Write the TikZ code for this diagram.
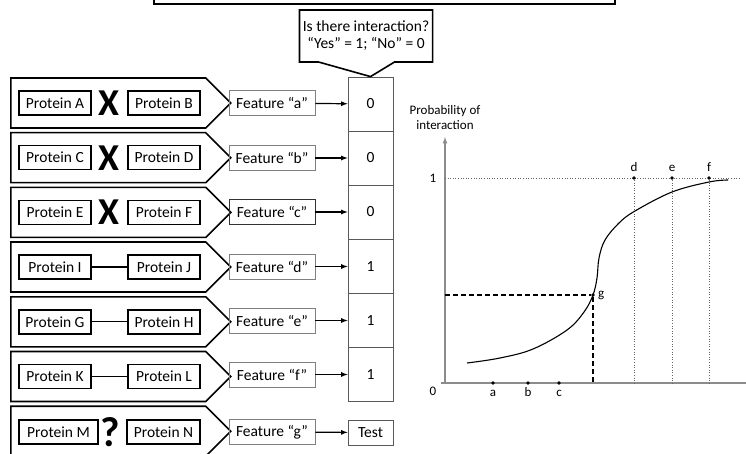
\documentclass[tikz,border=0pt]{standalone}
\usepackage{fontspec}
\setmainfont{Carlito}
\usetikzlibrary{shapes.symbols,shapes.callouts,arrows}

\tikzset{
  pairArrow/.style={shape=signal, signal to=east, signal pointer angle=90, draw=black, line width=1.6pt, minimum width=220pt, minimum height=50pt, inner sep=0pt, anchor=west},
  proteinBox/.style={rectangle, draw=black, line width=1.6pt, minimum width=72pt, minimum height=24pt, inner sep=0pt, font=\fontsize{15.5}{18}\selectfont},
  featureBox/.style={rectangle, draw=black!50, line width=0.8pt, minimum width=86pt, minimum height=25pt, inner sep=0pt, font=\fontsize{15.5}{18}\selectfont},
  valueBox/.style={rectangle, draw=black!65, line width=0.8pt, minimum width=45pt, minimum height=54pt, inner sep=0pt, font=\fontsize{15.5}{18}\selectfont},
  crossMark/.style={inner sep=0pt, font=\fontsize{38}{38}\selectfont\bfseries},
  askMark/.style={inner sep=0pt, font=\fontsize{42}{42}\selectfont\bfseries},
  featArrow/.style={-latex, line width=1.2pt},
  pairLink/.style={line width=1.2pt},
  graphLabel/.style={inner sep=1pt, font=\fontsize{13}{15}\selectfont},
  pointLabel/.style={graphLabel, text height=7pt, text depth=0pt},
  graphDot/.style={circle, fill=black, inner sep=0pt, minimum size=3.6pt},
  guideLine/.style={black!60, line width=0.6pt, dotted},
  axisLine/.style={black!45, line width=1.2pt}
}

\begin{document}
\begin{tikzpicture}[x=1pt,y=-1pt]
\useasboundingbox (0,0) rectangle (746,454);

\node (topBox) [rectangle, draw=black, line width=2.6pt, minimum width=461pt, minimum height=40pt] at (384.5,-16) {};

% value column
\node (value1) [valueBox] at (370.5,104) {0};
\node (value2) [valueBox] at (370.5,158) {0};
\node (value3) [valueBox] at (370.5,212) {0};
\node (value4) [valueBox] at (370.5,266.5) {1};
\node (value5) [valueBox] at (370.5,320.5) {1};
\node (value6) [valueBox] at (370.5,374.5) {1};
\node (valueTest) [valueBox, minimum height=25pt] at (370.5,432.5) {Test};

\node (question) [rectangle callout, draw=black, line width=1.6pt, minimum width=128pt, minimum height=52pt, callout absolute pointer={(value1.north)}, callout pointer width=76pt, align=center, font=\fontsize{15.5}{17}\selectfont] at (366,36) {Is there interaction?\\“Yes” = 1; “No” = 0};

% row A-B
\node (pairAB) [pairArrow] at (10,103) {};
\node (protA) [proteinBox] at (55,103) {Protein A};
\node (protB) [proteinBox] at (164,103) {Protein B};
\node (crossAB) [crossMark] at (108.5,103) {X};
\node (featA) [featureBox] at (272,103) {Feature “a”};
\draw [featArrow] (featA) -- (value1);

% row C-D
\node (pairCD) [pairArrow] at (10,157.7) {};
\node (protC) [proteinBox] at (55,157.7) {Protein C};
\node (protD) [proteinBox] at (164,157.7) {Protein D};
\node (crossCD) [crossMark] at (108.5,157.7) {X};
\node (featB) [featureBox] at (272,158) {Feature “b”};
\draw [featArrow] (featB) -- (value2);

% row E-F
\node (pairEF) [pairArrow] at (10,212.4) {};
\node (protE) [proteinBox] at (55,212.4) {Protein E};
\node (protF) [proteinBox] at (164,212.4) {Protein F};
\node (crossEF) [crossMark] at (108.5,212.4) {X};
\node (featC) [featureBox, draw=black!80] at (272,212) {Feature “c”};
\draw [featArrow] (featC) -- (value3);

% row I-J
\node (pairIJ) [pairArrow] at (10,267) {};
\node (protI) [proteinBox] at (55,267) {Protein I};
\node (protJ) [proteinBox] at (164,267) {Protein J};
\draw [pairLink] (protI) -- (protJ);
\node (featD) [featureBox] at (272,266.5) {Feature “d”};
\draw [featArrow] (featD) -- (value4);

% row G-H
\node (pairGH) [pairArrow] at (10,321.8) {};
\node (protG) [proteinBox] at (55,321.8) {Protein G};
\node (protH) [proteinBox] at (164,321.8) {Protein H};
\draw [pairLink] (protG) -- (protH);
\node (featE) [featureBox] at (272,320.5) {Feature “e”};
\draw [featArrow] (featE) -- (value5);

% row K-L
\node (pairKL) [pairArrow] at (10,376.5) {};
\node (protK) [proteinBox] at (55,376.5) {Protein K};
\node (protL) [proteinBox] at (164,376.5) {Protein L};
\draw [pairLink] (protK) -- (protL);
\node (featF) [featureBox] at (272,374.5) {Feature “f”};
\draw [featArrow] (featF) -- (value6);

% row M-N
\node (pairMN) [pairArrow] at (10,431.2) {};
\node (protM) [proteinBox, minimum width=79pt] at (58.5,432) {Protein M};
\node (protN) [proteinBox, minimum width=73pt] at (163.5,432) {Protein N};
\node (askMN) [askMark] at (110,432) {?};
\node (featG) [featureBox] at (272,432) {Feature “g”};
\draw [featArrow] (featG) -- (valueTest);

% probability graph
\coordinate (origin) at (445,383);
\coordinate (yTop) at (445,137);
\coordinate (xEnd) at (746,383);
\coordinate (oneLeft) at (445,178);
\coordinate (oneRight) at (740,178);
\draw [axisLine] (441,383) -- (xEnd);
\draw [axisLine, -latex] (origin) -- (yTop);
\node (yTitle) [graphLabel, align=center] at (445,118) {Probability of\\interaction};
\node (oneLbl) [graphLabel] at (433,178) {1};
\node (zeroLbl) [graphLabel] at (433,391) {0};
\draw [guideLine] (oneLeft) -- (oneRight);

\node (ptA) [graphDot] at (493,383) {};
\node (ptB) [graphDot] at (528,383) {};
\node (ptC) [graphDot] at (559,383) {};
\node [pointLabel, below=3pt] at (ptA.south) {a};
\node [pointLabel, below=3pt] at (ptB.south) {b};
\node [pointLabel, below=3pt] at (ptC.south) {c};

\node (ptD) [graphDot] at (634,178) {};
\node (ptE) [graphDot] at (672,178) {};
\node (ptF) [graphDot] at (709,178) {};
\node [pointLabel, above=3pt] at (ptD.north) {d};
\node [pointLabel, above=3pt] at (ptE.north) {e};
\node [pointLabel, above=3pt] at (ptF.north) {f};
\draw [guideLine] (ptD) -- (634,383);
\draw [guideLine] (ptE) -- (672,383);
\draw [guideLine] (ptF) -- (709,383);

\draw [line width=1.1pt] plot[smooth, tension=0.6] coordinates {(467,363) (500,358) (533,349) (567,330) (584,312) (593,295) (597,278) (599,258) (605,240) (619,223) (635,211) (672,192) (709,182) (728,180)};

\node (ptG) [graphDot] at (593,295) {};
\node [graphLabel, right=2pt] at (ptG.east) {g};
\draw [line width=1.6pt, dash pattern=on 5pt off 3pt] (445,295) -- (ptG) -- (593,383);

\end{tikzpicture}
\end{document}
